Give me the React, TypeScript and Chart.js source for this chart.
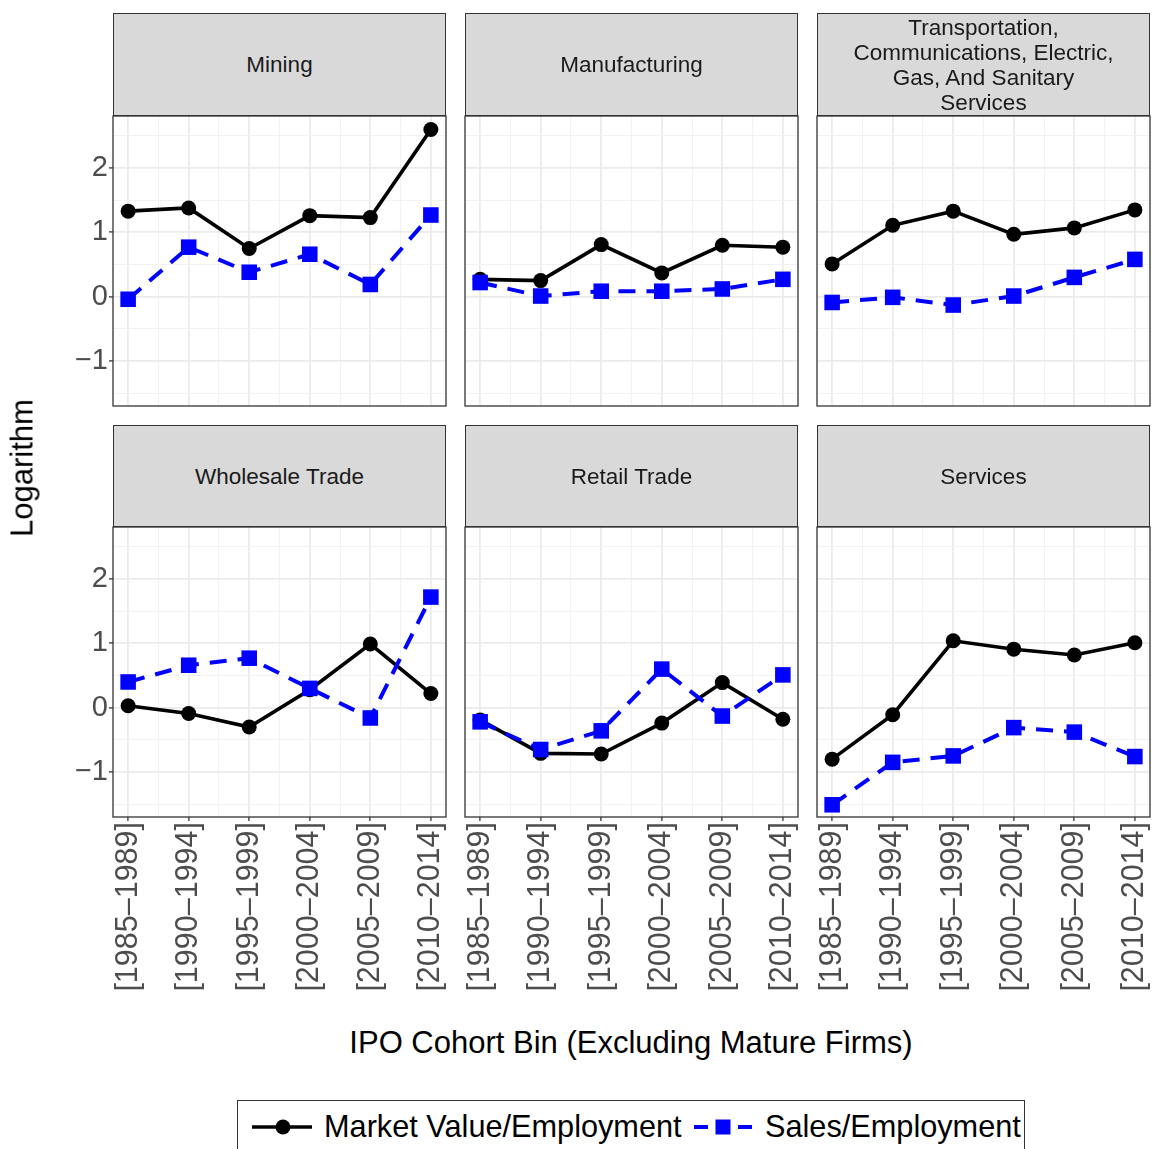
import React, { useEffect, useRef } from 'react';
import { Chart, registerables } from 'chart.js';

Chart.register(...registerables);

const FONT = '"Liberation Sans", Arial, Helvetica, sans-serif';

// ---- data ----
const categories = ['[1985–1989]', '[1990–1994]', '[1995–1999]', '[2000–2004]', '[2005–2009]', '[2010–2014]'];
const industries = [
  'Mining',
  'Manufacturing',
  'Transportation,\nCommunications, Electric,\nGas, And Sanitary\nServices',
  'Wholesale Trade',
  'Retail Trade',
  'Services',
];
const seriesNames = ['Market Value/Employment', 'Sales/Employment'];

const miningMV = [1.33, 1.38, 0.75, 1.26, 1.23, 2.6];
const miningSales = [-0.04, 0.77, 0.38, 0.66, 0.19, 1.27];
const manufacturingMV = [0.27, 0.25, 0.81, 0.37, 0.8, 0.77];
const manufacturingSales = [0.22, 0.01, 0.085, 0.085, 0.12, 0.27];
const transportationMV = [0.51, 1.11, 1.33, 0.97, 1.07, 1.35];
const transportationSales = [-0.09, -0.01, -0.13, 0.01, 0.3, 0.58];
const wholesaleMV = [0.03, -0.09, -0.3, 0.28, 0.99, 0.22];
const wholesaleSales = [0.4, 0.66, 0.77, 0.3, -0.16, 1.72];
const retailMV = [-0.19, -0.71, -0.72, -0.24, 0.39, -0.18];
const retailSales = [-0.22, -0.65, -0.36, 0.6, -0.13, 0.51];
const servicesMV = [-0.8, -0.11, 1.04, 0.91, 0.82, 1.01];
const servicesSales = [-1.51, -0.85, -0.75, -0.31, -0.38, -0.76];

const mvSeries = [miningMV, manufacturingMV, transportationMV, wholesaleMV, retailMV, servicesMV];
const salesSeries = [miningSales, manufacturingSales, transportationSales, wholesaleSales, retailSales, servicesSales];

const yTickValues = [-1.5, -1, -0.5, 0, 0.5, 1, 1.5, 2, 2.5];
const xTickValues = [1, 1.5, 2, 2.5, 3, 3.5, 4, 4.5, 5, 5.5, 6];
const Y_MIN = -1.7;
const Y_MAX = 2.81;
const X_MIN = 0.75;
const X_MAX = 6.25;

// ---- layout ----
const PANEL_W = 333;
const PANEL_H = 290;
const COL_X = [113, 465, 817];
const ROW_Y = [116, 527];
const STRIP_TOP = [13, 425];

const framePlugin = {
  id: 'panelFrame',
  afterDraw(chart: any) {
    const { ctx, chartArea: a } = chart;
    ctx.save();
    ctx.strokeStyle = '#333333';
    ctx.lineWidth = 1.3;
    ctx.strokeRect(a.left, a.top, a.right - a.left, a.bottom - a.top);
    ctx.restore();
  },
};

const isInt = (v: number) => Math.abs(v - Math.round(v)) < 1e-9;

function Panel({ idx }: { idx: number }) {
  const ref = useRef<HTMLCanvasElement | null>(null);
  const col = idx % 3;
  const row = Math.floor(idx / 3);
  const isLeft = col === 0;
  const isBottom = row === 1;
  const PAD = 32;
  const L = isLeft ? 113 : PAD;
  const R = PAD;
  const T = PAD;
  const B = isBottom ? 200 : PAD;
  const W = L + PANEL_W + R;
  const H = T + PANEL_H + B;

  useEffect(() => {
    if (!ref.current) return;
    const mv = mvSeries[idx];
    const sales = salesSeries[idx];
    const chart = new Chart(ref.current, {
      type: 'line',
      data: {
        datasets: [
          {
            label: seriesNames[0],
            data: mv.map((v, i) => ({ x: i + 1, y: v })),
            borderColor: '#000000',
            backgroundColor: '#000000',
            borderWidth: 3.6,
            pointStyle: 'circle',
            pointRadius: 7.5,
            pointBorderWidth: 0,
            pointBackgroundColor: '#000000',
            order: 2,
            clip: false,
          },
          {
            label: seriesNames[1],
            data: sales.map((v, i) => ({ x: i + 1, y: v })),
            borderColor: '#0000FF',
            backgroundColor: '#0000FF',
            borderWidth: 4,
            borderDash: [17, 11],
            pointStyle: 'rect',
            pointRadius: 11,
            pointBorderWidth: 0,
            pointBackgroundColor: '#0000FF',
            order: 1,
            clip: false,
          },
        ],
      },
      options: {
        animation: false,
        responsive: false,
        maintainAspectRatio: false,
        layout: {
          padding: { left: isLeft ? 0 : L, right: R, top: T, bottom: isBottom ? 0 : B },
        },
        plugins: { legend: { display: false }, tooltip: { enabled: false } },
        scales: {
          x: {
            type: 'linear',
            min: X_MIN,
            max: X_MAX,
            afterBuildTicks: (s: any) => {
              s.ticks = xTickValues.map((v) => ({ value: v }));
            },
            afterFit: (s: any) => {
              s.height = isBottom ? B : 0;
            },
            border: { display: false },
            grid: {
              color: (c: any) => (isInt(c.tick.value) ? '#EBEBEB' : '#F2F2F2'),
              lineWidth: (c: any) => (isInt(c.tick.value) ? 1.8 : 1),
              drawTicks: isBottom,
              tickLength: 4,
              tickWidth: 1.3,
              tickColor: (c: any) => (isInt(c.tick.value) ? '#333333' : 'rgba(0,0,0,0)'),
            },
            ticks: {
              display: isBottom,
              autoSkip: false,
              minRotation: 90,
              maxRotation: 90,
              padding: 1,
              color: '#4D4D4D',
              font: { family: FONT, size: 30.5 },
              callback: (v: any) => (isInt(v) ? categories[Math.round(v) - 1] : ''),
            },
          },
          y: {
            type: 'linear',
            min: Y_MIN,
            max: Y_MAX,
            afterBuildTicks: (s: any) => {
              s.ticks = yTickValues.map((v) => ({ value: v }));
            },
            afterFit: (s: any) => {
              s.width = isLeft ? L : 0;
            },
            border: { display: false },
            grid: {
              color: (c: any) => (isInt(c.tick.value) ? '#EBEBEB' : '#F2F2F2'),
              lineWidth: (c: any) => (isInt(c.tick.value) ? 1.8 : 1),
              drawTicks: isLeft,
              tickLength: 4,
              tickWidth: 1.3,
              tickColor: (c: any) => (isInt(c.tick.value) ? '#333333' : 'rgba(0,0,0,0)'),
            },
            ticks: {
              display: isLeft,
              autoSkip: false,
              padding: 1,
              color: '#4D4D4D',
              font: { family: FONT, size: 29 },
              callback: (v: any) => (isInt(v) ? (v < 0 ? '\u2212' + Math.abs(v) : String(v)) : ''),
            },
          },
        },
      } as any,
      plugins: [framePlugin],
    });
    return () => chart.destroy();
  }, [idx]);

  return (
    <canvas
      ref={ref}
      width={W}
      height={H}
      style={{
        position: 'absolute',
        left: COL_X[col] - L,
        top: ROW_Y[row] - T,
        width: W,
        height: H,
      }}
    />
  );
}

function Strip({ idx }: { idx: number }) {
  const col = idx % 3;
  const row = Math.floor(idx / 3);
  return (
    <div
      style={{
        position: 'absolute',
        left: COL_X[col],
        top: STRIP_TOP[row],
        width: PANEL_W,
        height: ROW_Y[row] - STRIP_TOP[row],
        boxSizing: 'border-box',
        background: '#D9D9D9',
        border: '1.3px solid #333333',
        display: 'flex',
        alignItems: 'center',
        justifyContent: 'center',
        textAlign: 'center',
        fontFamily: FONT,
        fontSize: 22.5,
        lineHeight: '25px',
        color: '#1A1A1A',
        whiteSpace: 'pre-line',
      }}
    >
      {industries[idx]}
    </div>
  );
}

function Legend() {
  return (
    <div
      style={{
        position: 'absolute',
        left: 237,
        top: 1100,
        width: 788,
        height: 70,
        boxSizing: 'border-box',
        border: '1.3px solid #333333',
        background: '#FFFFFF',
      }}
    >
      <svg width={788} height={70} style={{ position: 'absolute', left: -1, top: -1 }}>
        <line x1={15} y1={27} x2={75} y2={27} stroke="#000000" strokeWidth={3.6} />
        <circle cx={46} cy={27} r={7.5} fill="#000000" />
        <line x1={457} y1={27} x2={515} y2={27} stroke="#0000FF" strokeWidth={4} strokeDasharray="14 8" />
        <rect x={478.5} y={19.5} width={15} height={15} fill="#0000FF" />
      </svg>
      {[
        { text: seriesNames[0], left: 86 },
        { text: seriesNames[1], left: 527 },
      ].map((t) => (
        <span
          key={t.text}
          style={{
            position: 'absolute',
            left: t.left,
            top: 26,
            transform: 'translateY(-50%)',
            fontFamily: FONT,
            fontSize: 30.7,
            lineHeight: 1,
            color: '#000000',
            whiteSpace: 'nowrap',
          }}
        >
          {t.text}
        </span>
      ))}
    </div>
  );
}

export default function App() {
  const idxs = [0, 1, 2, 3, 4, 5];
  return (
    <div
      style={{
        position: 'absolute',
        left: 0,
        top: 0,
        width: 1153,
        height: 1149,
        overflow: 'hidden',
        background: '#FFFFFF',
      }}
    >
      {idxs.map((i) => (
        <Panel key={'p' + i} idx={i} />
      ))}
      {idxs.map((i) => (
        <Strip key={'s' + i} idx={i} />
      ))}
      <div
        style={{
          position: 'absolute',
          left: 22,
          top: 468,
          transform: 'translate(-50%, -50%) rotate(-90deg)',
          fontFamily: FONT,
          fontSize: 31,
          lineHeight: 1,
          color: '#000000',
          whiteSpace: 'nowrap',
        }}
      >
        Logarithm
      </div>
      <div
        style={{
          position: 'absolute',
          left: 631,
          top: 1042,
          transform: 'translate(-50%, -50%)',
          fontFamily: FONT,
          fontSize: 31,
          lineHeight: 1,
          color: '#000000',
          whiteSpace: 'nowrap',
        }}
      >
        IPO Cohort Bin (Excluding Mature Firms)
      </div>
      <Legend />
    </div>
  );
}
